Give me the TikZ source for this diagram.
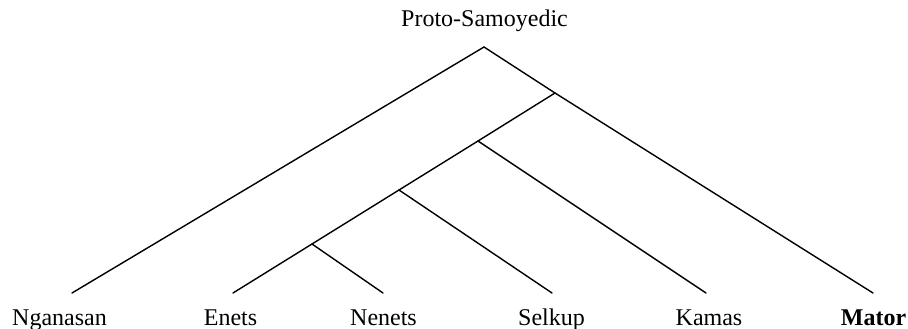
\documentclass[tikz,border=0pt]{standalone}
\usepackage{fontspec}
\setmainfont{Liberation Serif}
\begin{document}
\begin{tikzpicture}[x=1pt,y=-1pt,
  lbl/.style={anchor=base,inner sep=0pt,font=\fontsize{24}{28}\selectfont},
  edge/.style={line width=1.4pt,line cap=round}]
\useasboundingbox (0,0) rectangle (908,329);
% internal nodes
\coordinate (root) at (484,47);
\coordinate (n1) at (555,93);
\coordinate (n2) at (478,141);
\coordinate (n3) at (399,190);
\coordinate (n4) at (312,244);
% leaf ends
\coordinate (eNg) at (72,293);
\coordinate (eEn) at (233,293);
\coordinate (eNe) at (383,293);
\coordinate (eSe) at (552,293);
\coordinate (eKa) at (706,293);
\coordinate (eMa) at (873,293);
% labels
\node[lbl] (proto) at (484.5,27) {Proto-Samoyedic};
\node[lbl] (ng) at (59.5,325) {Nganasan};
\node[lbl] (en) at (230.5,325) {Enets};
\node[lbl] (ne) at (383.5,325) {Nenets};
\node[lbl] (se) at (551.5,325) {Selkup};
\node[lbl] (ka) at (709,325) {Kamas};
\node[lbl] (ma) at (873.5,325) {\bfseries Mator};
% edges
\draw[edge] (eNg) -- (root) -- (n1) -- (eMa);
\draw[edge] (n1) -- (n2) -- (n3) -- (n4) -- (eEn);
\draw[edge] (n2) -- (eKa);
\draw[edge] (n3) -- (eSe);
\draw[edge] (n4) -- (eNe);
\end{tikzpicture}
\end{document}
